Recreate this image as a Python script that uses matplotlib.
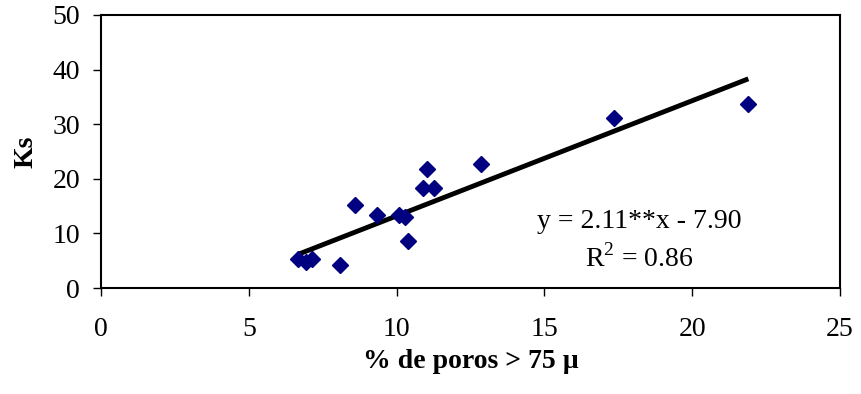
import numpy as np
import matplotlib.pyplot as plt

# % de poros > 75 micras vs Ks
poros = [6.66, 6.95, 7.13, 8.08, 8.59, 9.34, 10.08, 10.28, 10.39, 10.9, 11.03, 11.27, 12.86, 17.35, 21.9]
ks = [5.3, 4.8, 5.3, 4.2, 15.2, 13.4, 13.4, 13.0, 8.6, 18.3, 21.8, 18.3, 22.7, 31.1, 33.7]

pendiente = 2.11
intercepto = -7.90

plt.rcParams['font.family'] = ['Liberation Serif', 'DejaVu Serif']
plt.rcParams['mathtext.fontset'] = 'custom'
plt.rcParams['mathtext.rm'] = 'Liberation Serif'

fig = plt.figure(figsize=(8.61, 3.94), dpi=100)
ax = fig.add_axes([0.1173, 0.269, 0.8583, 0.693])

ax.plot(poros, ks, 'D', color='#000080', markersize=8.5, zorder=3)

xl = np.array([min(poros), max(poros)])
ax.plot(xl, pendiente*xl + intercepto, color='black', linewidth=3.5, solid_capstyle='butt', zorder=2)

ax.set_xlim(0, 25)
ax.set_ylim(0, 50)
ax.set_xticks(np.arange(0, 26, 5))
ax.set_yticks(np.arange(0, 51, 10))
ax.tick_params(direction='out', length=6, width=1, labelsize=20, pad=15)
ax.tick_params(axis='y', pad=9)

for s in ax.spines.values():
    s.set_linewidth(1.5)

ax.set_xlabel('% de poros > 75 \u00b5', fontsize=20, fontweight='bold', labelpad=5)
ax.set_ylabel('Ks', fontsize=20, fontweight='bold', labelpad=10)

ax.text(18.2, 12.1, 'y = 2.11**x - 7.90', fontsize=20, ha='center', va='center')
ax.text(18.2, 5.5, 'R$^\\mathregular{2}$ = 0.86', fontsize=20, ha='center', va='center')

fig.savefig('out.png', dpi=100)
